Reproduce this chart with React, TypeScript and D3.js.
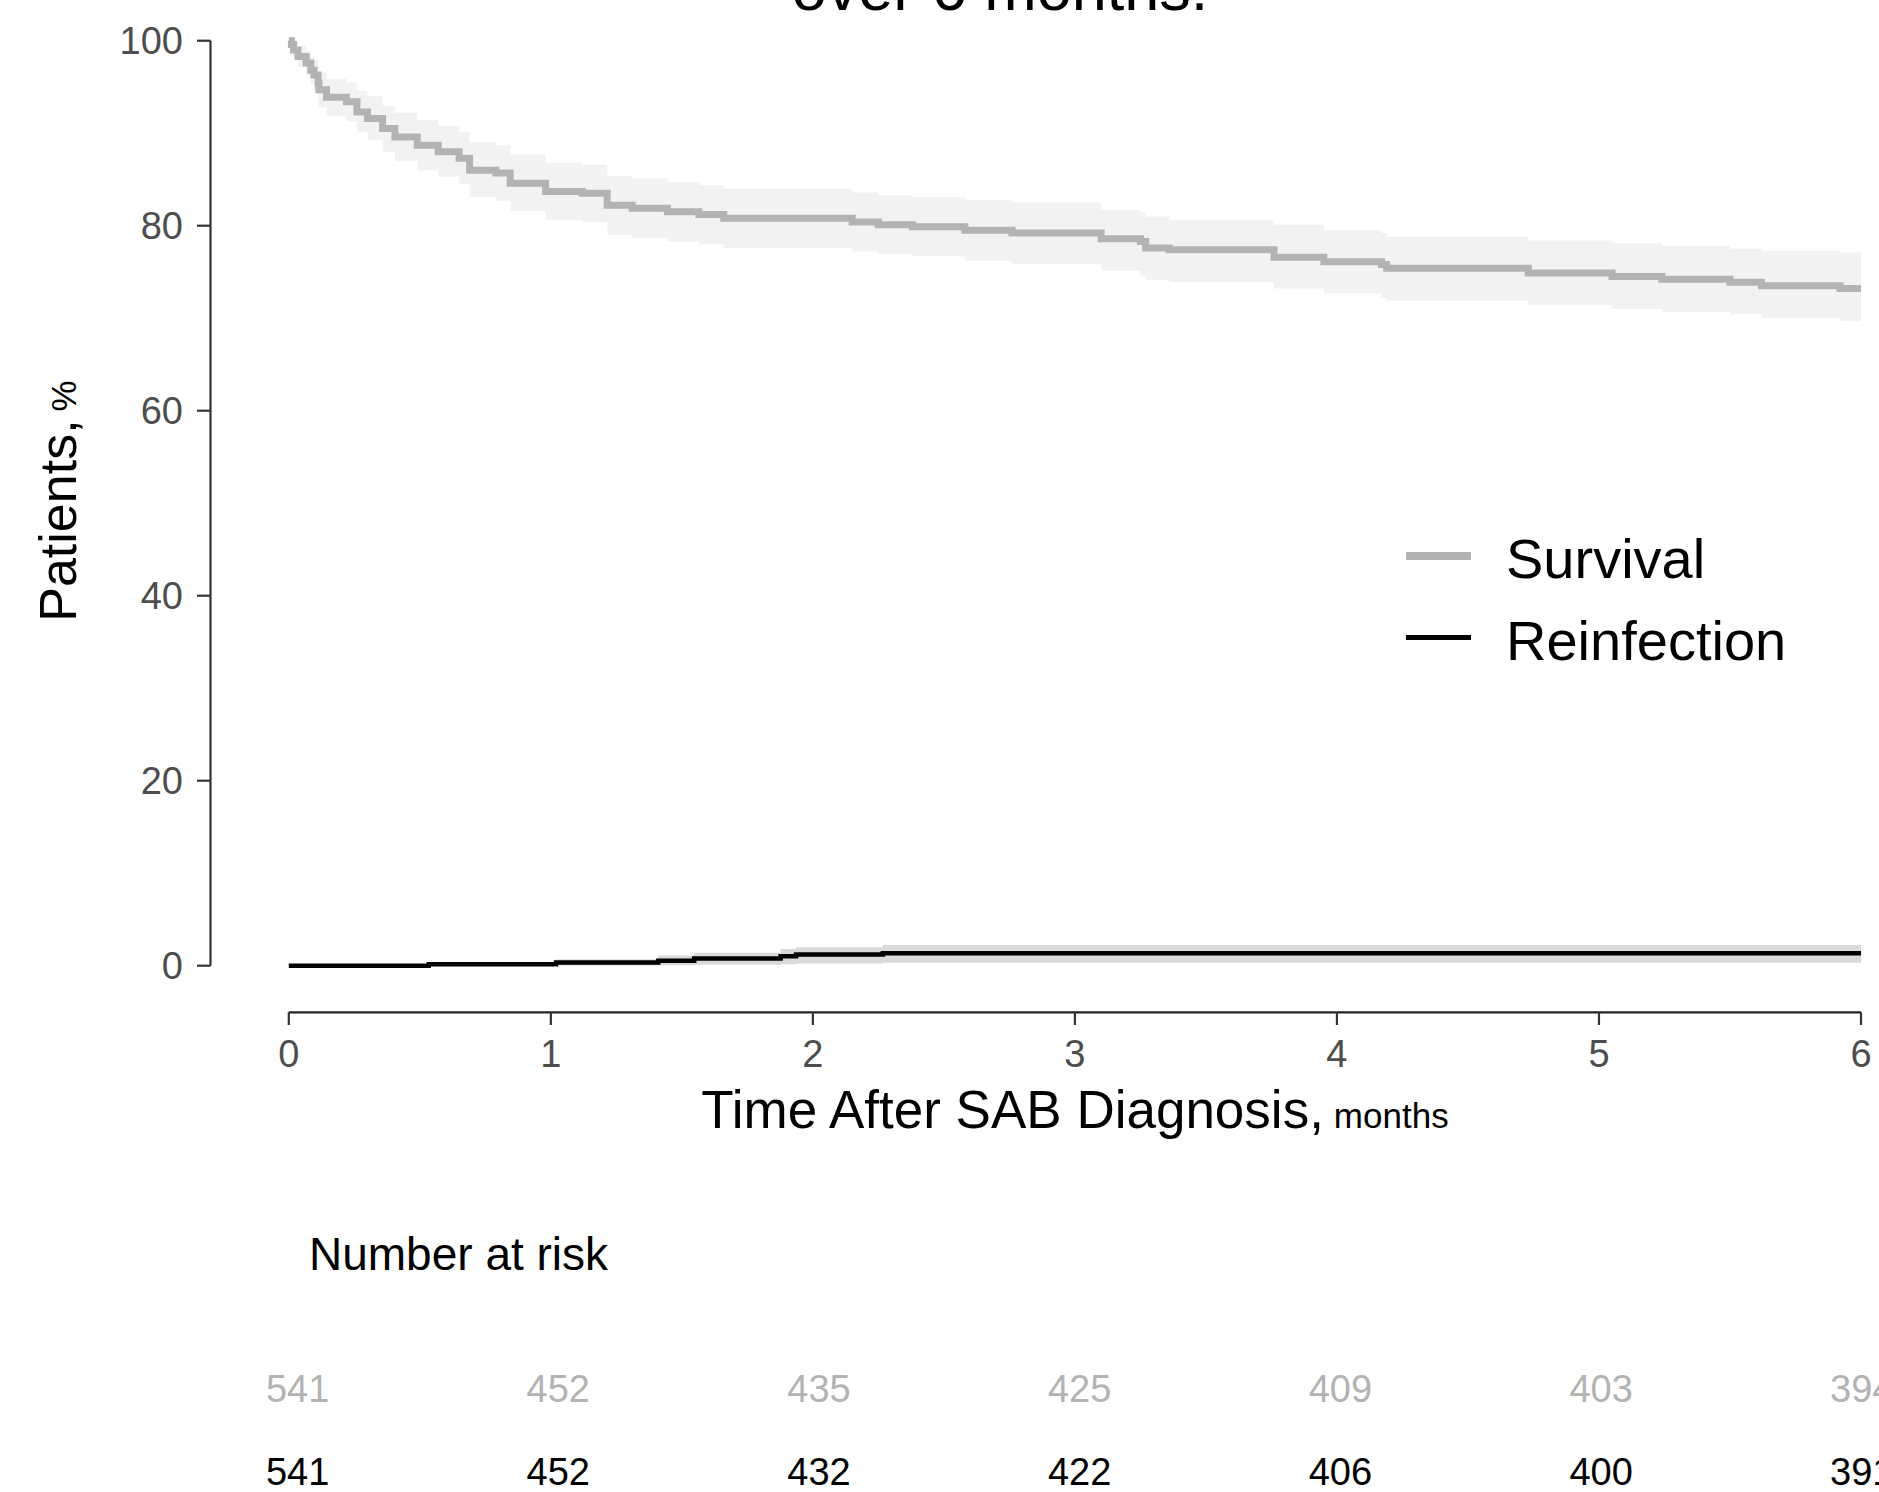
import React from "react";
import * as d3 from "d3";

const survTime = [0, 0.01, 0.018, 0.035, 0.066, 0.084, 0.096, 0.112, 0.115, 0.144, 0.22, 0.26, 0.3, 0.358, 0.405, 0.49, 0.57, 0.65, 0.69, 0.79, 0.845, 0.98, 1.12, 1.215, 1.31, 1.445, 1.565, 1.66, 2.15, 2.25, 2.38, 2.58, 2.76, 3.1, 3.25, 3.27, 3.36, 3.76, 3.95, 4.17, 4.19, 4.73, 5.05, 5.24, 5.5, 5.62, 5.92, 6.0];
const survPct = [100, 99.6, 99.0, 98.3, 97.6, 96.8, 96.3, 95.4, 94.7, 93.9, 93.4, 92.3, 91.6, 90.5, 89.6, 88.7, 88.0, 87.3, 86.0, 85.7, 84.6, 83.7, 83.5, 82.2, 81.9, 81.5, 81.2, 80.8, 80.4, 80.1, 79.9, 79.5, 79.2, 78.6, 78.3, 77.6, 77.4, 76.6, 76.1, 75.8, 75.4, 74.9, 74.5, 74.2, 73.9, 73.5, 73.2, 73.2];
const survLo = [100, 99.1, 98.2, 97.2, 96.3, 95.3, 94.7, 93.6, 92.8, 91.9, 91.3, 90.1, 89.3, 88.0, 87.0, 86.0, 85.3, 84.5, 83.1, 82.7, 81.6, 80.6, 80.4, 79.0, 78.7, 78.3, 78.0, 77.6, 77.2, 76.9, 76.7, 76.2, 75.9, 75.1, 74.6, 74.1, 73.9, 73.2, 72.7, 72.2, 71.9, 71.4, 71.0, 70.7, 70.4, 70.0, 69.7, 69.7];
const survHi = [100, 100, 99.8, 99.4, 98.9, 98.3, 97.9, 97.2, 96.6, 95.9, 95.5, 94.6, 94.0, 93.0, 92.2, 91.4, 90.8, 90.1, 89.0, 88.7, 87.7, 86.8, 86.6, 85.4, 85.1, 84.7, 84.4, 84.0, 83.6, 83.3, 83.1, 82.8, 82.5, 81.7, 81.4, 81.0, 80.6, 80.1, 79.5, 79.2, 78.8, 78.4, 78.1, 77.8, 77.5, 77.3, 77.1, 77.1];

const reinfTime = [0, 0.534, 1.02, 1.41, 1.547, 1.877, 1.936, 2.267, 6.0];
const reinfPct = [0, 0.17, 0.34, 0.54, 0.78, 1.03, 1.2, 1.34, 1.34];
const reinfLo = [0, 0, 0, 0.05, 0.1, 0.15, 0.25, 0.33, 0.33];
const reinfHi = [0, 0.4, 0.7, 1.1, 1.4, 1.8, 2.0, 2.25, 2.25];

const xTicks = [0, 1, 2, 3, 4, 5, 6];
const yTicks = [0, 20, 40, 60, 80, 100];

const riskTimes = [0, 1, 2, 3, 4, 5, 6];
const riskSurvival = [541, 452, 435, 425, 409, 403, 394];
const riskReinfection = [541, 452, 432, 422, 406, 400, 391];

const seriesNames = ["Survival", "Reinfection"];
const seriesColors = ["#b3b3b3", "#000000"];

const FONT = "'Liberation Sans', Arial, Helvetica, sans-serif";

export default function App() {
  const W = 1879;
  const H = 1492;
  const x = d3.scaleLinear().domain([0, 6]).range([288.8, 1861]);
  const y = d3.scaleLinear().domain([0, 100]).range([965.7, 40.7]);
  const xRisk = d3.scaleLinear().domain([0, 6]).range([297.6, 1861.8]);

  const survData = survTime.map((t, i) => ({ t, v: survPct[i], lo: survLo[i], hi: survHi[i] }));
  const reinfData = reinfTime.map((t, i) => ({ t, v: reinfPct[i], lo: reinfLo[i], hi: reinfHi[i] }));

  const line = d3
    .line<{ t: number; v: number }>()
    .x((d) => x(d.t))
    .y((d) => y(d.v))
    .curve(d3.curveStepAfter);
  const area = d3
    .area<{ t: number; lo: number; hi: number }>()
    .x((d) => x(d.t))
    .y0((d) => y(d.lo))
    .y1((d) => y(d.hi))
    .curve(d3.curveStepAfter);

  const axisY = 1012.3;
  const yAxisX = 210.5;

  return (
    <svg
      width={W}
      height={H}
      viewBox={`0 0 ${W} ${H}`}
      style={{ position: "absolute", left: 0, top: 0, background: "#fff" }}
      fontFamily={FONT}
    >
      <rect x={0} y={0} width={W} height={H} fill="#fff" />
      {/* Title (mostly cut off at top) */}
      <text x={1000} y={10} fontSize={63} textAnchor="middle" fill="#000">
        over 6 months.
      </text>

      {/* Ribbons */}
      <path d={area(survData) || ""} fill="#b3b3b3" fillOpacity={0.17} />
      <path d={area(reinfData) || ""} fill="#000" fillOpacity={0.15} />

      {/* Lines */}
      <path d={line(survData) || ""} fill="none" stroke={seriesColors[0]} strokeWidth={7} />
      <path d={line(reinfData) || ""} fill="none" stroke={seriesColors[1]} strokeWidth={4.5} />

      {/* Y axis */}
      <line x1={yAxisX} x2={yAxisX} y1={y(100)} y2={y(0)} stroke="#333" strokeWidth={2.2} />
      {yTicks.map((t) => (
        <g key={t}>
          <line x1={197} x2={yAxisX} y1={y(t)} y2={y(t)} stroke="#333" strokeWidth={2.2} />
          <text x={183} y={y(t)} dy="0.36em" fontSize={38} textAnchor="end" fill="#4d4d4d">
            {t}
          </text>
        </g>
      ))}
      <text
        transform={`translate(76, 501) rotate(-90)`}
        textAnchor="middle"
        fill="#000"
      >
        <tspan fontSize={52}>Patients,</tspan>
        <tspan fontSize={35} dx={8}>%</tspan>
      </text>

      {/* X axis */}
      <line x1={x(0)} x2={x(6)} y1={axisY} y2={axisY} stroke="#222" strokeWidth={2.2} />
      {xTicks.map((t) => (
        <g key={t}>
          <line x1={x(t)} x2={x(t)} y1={axisY} y2={1025} stroke="#333" strokeWidth={2.2} />
          <text x={x(t)} y={1067} fontSize={38} textAnchor="middle" fill="#4d4d4d">
            {t}
          </text>
        </g>
      ))}
      <text x={1075} y={1128} textAnchor="middle" fill="#000">
        <tspan fontSize={53}>Time After SAB Diagnosis,</tspan>
        <tspan fontSize={35} dx={10}>months</tspan>
      </text>

      {/* Legend */}
      {seriesNames.map((name, i) => {
        const ly = i === 0 ? 556 : 637.5;
        return (
          <g key={name}>
            <line
              x1={1406}
              x2={1471}
              y1={ly}
              y2={ly}
              stroke={seriesColors[i]}
              strokeWidth={i === 0 ? 8 : 5}
            />
            <text x={1506} y={ly + 22} fontSize={56} fill="#000">
              {name}
            </text>
          </g>
        );
      })}

      {/* Risk table */}
      <text x={309} y={1270} fontSize={46} fill="#000">
        Number at risk
      </text>
      {riskTimes.map((t, i) => (
        <g key={t}>
          <text x={xRisk(t)} y={1401.7} fontSize={38} textAnchor="middle" fill="#b3b3b3">
            {riskSurvival[i]}
          </text>
          <text x={xRisk(t)} y={1485} fontSize={38} textAnchor="middle" fill="#000">
            {riskReinfection[i]}
          </text>
        </g>
      ))}
    </svg>
  );
}
